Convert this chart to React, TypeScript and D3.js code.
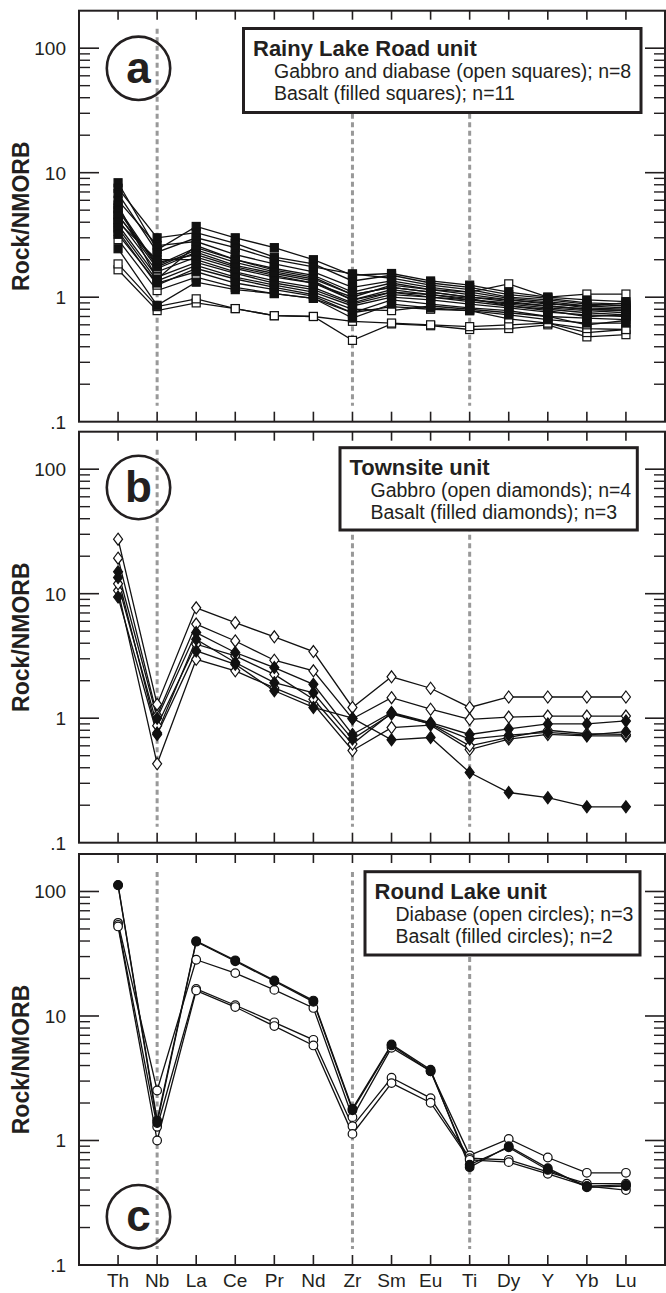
import * as d3 from "d3";
import React from "react";

const ELEMENTS = ["Th", "Nb", "La", "Ce", "Pr", "Nd", "Zr", "Sm", "Eu", "Ti", "Dy", "Y", "Yb", "Lu"];
const DASHED = ["Nb", "Zr", "Ti"];
const Y_TICKS = [100, 10, 1, 0.1];
const Y_TICK_LABELS = ["100", "10", "1", ".1"];

// (a) Rainy Lake Road unit
const rainyOpen = [
  [1.66, 0.78, 0.9, 0.81, 0.71, 0.7, 0.45, 0.61, 0.59, 0.55, 0.56, 0.6, 0.48, 0.5],
  [1.85, 0.84, 0.97, 0.81, 0.71, 0.7, 0.64, 0.62, 0.6, 0.58, 0.6, 0.62, 0.52, 0.55],
  [2.9, 1.13, 1.45, 1.2, 1.07, 0.98, 0.75, 0.84, 0.8, 0.78, 0.67, 0.62, 0.56, 0.55],
  [4.2, 1.6, 2.1, 1.7, 1.45, 1.3, 1.0, 1.25, 1.15, 1.1, 1.28, 1.0, 1.06, 1.06],
  [3.8, 1.45, 1.9, 1.55, 1.3, 1.15, 0.88, 1.05, 1.0, 0.95, 0.9, 0.85, 0.8, 0.78],
  [5.2, 1.8, 2.5, 2.0, 1.65, 1.45, 1.05, 1.2, 1.1, 1.0, 0.95, 0.88, 0.85, 0.9],
  [3.4, 1.25, 1.7, 1.4, 1.2, 1.05, 0.8, 0.78, 0.85, 0.8, 0.75, 0.7, 0.6, 0.65],
  [4.6, 1.7, 2.3, 1.8, 1.55, 1.35, 0.95, 1.1, 1.05, 0.98, 0.85, 0.78, 0.7, 0.72],
];
const rainyFilled = [
  [8.3, 2.4, 3.7, 3.0, 2.5, 2.0, 1.5, 1.55, 1.35, 1.25, 1.1, 1.0, 0.95, 0.92],
  [7.5, 3.0, 3.3, 2.7, 2.1, 1.85, 1.35, 1.5, 1.3, 1.2, 1.05, 0.98, 0.9, 0.88],
  [6.8, 2.3, 3.0, 2.5, 2.0, 1.75, 1.54, 1.42, 1.25, 1.15, 1.0, 0.95, 0.88, 0.85],
  [6.0, 2.6, 2.8, 2.2, 1.85, 1.6, 1.2, 1.35, 1.2, 1.1, 0.98, 0.92, 0.85, 0.82],
  [5.5, 1.4, 2.6, 2.0, 1.7, 1.5, 1.1, 1.3, 1.15, 1.05, 0.95, 0.9, 0.82, 0.8],
  [5.0, 1.75, 2.4, 1.9, 1.6, 1.4, 1.05, 1.2, 1.1, 1.0, 0.92, 0.85, 0.8, 0.78],
  [4.5, 1.9, 2.2, 1.75, 1.5, 1.3, 0.95, 1.15, 1.05, 0.95, 0.88, 0.82, 0.78, 0.75],
  [4.0, 2.0, 2.0, 1.6, 1.35, 1.2, 0.9, 1.1, 1.0, 0.92, 0.85, 0.8, 0.75, 0.72],
  [3.6, 1.35, 1.8, 1.45, 1.25, 1.1, 0.85, 1.0, 0.95, 0.88, 0.82, 0.76, 0.72, 0.7],
  [3.2, 1.3, 1.6, 1.3, 1.15, 1.02, 0.75, 0.95, 0.88, 0.82, 0.78, 0.7, 0.68, 0.66],
  [2.45, 0.86, 1.32, 1.15, 1.07, 0.98, 0.68, 0.88, 0.82, 0.78, 0.72, 0.66, 0.62, 0.62],
];

// (b) Townsite unit
const townsiteOpen = [
  [27.4, 1.29, 7.7, 5.85, 4.5, 3.43, 1.22, 2.15, 1.74, 1.22, 1.48, 1.48, 1.48, 1.48],
  [19.3, 1.05, 5.7, 4.17, 2.92, 2.4, 0.99, 1.46, 1.18, 0.98, 1.02, 1.04, 1.04, 1.04],
  [10.6, 0.43, 2.97, 2.4, 1.75, 1.3, 0.55, 0.84, 0.88, 0.56, 0.68, 0.74, 0.72, 0.72],
  [12.0, 0.87, 3.93, 3.16, 2.25, 1.42, 0.62, 1.1, 0.9, 0.6, 0.7, 0.8, 0.75, 0.74],
];
const townsiteFilled = [
  [9.4, 0.74, 3.47, 2.71, 1.66, 1.22, 1.0, 0.67, 0.7, 0.366, 0.253, 0.23, 0.194, 0.194],
  [15.0, 1.0, 4.87, 3.37, 2.55, 1.87, 0.74, 1.11, 0.92, 0.74, 0.82, 0.9, 0.9, 0.95],
  [13.5, 0.76, 4.3, 2.8, 1.93, 1.6, 0.68, 1.08, 0.9, 0.68, 0.73, 0.77, 0.73, 0.78],
];

// (c) Round Lake unit
const roundOpen = [
  [56, 2.52, 28.3, 22.1, 16.2, 11.6, 1.54, 5.56, 3.6, 0.76, 1.03, 0.73, 0.55, 0.55],
  [54, 1.29, 16.5, 12.2, 8.9, 6.44, 1.3, 3.19, 2.19, 0.72, 0.7, 0.56, 0.45, 0.45],
  [52.4, 1.0, 16.0, 11.8, 8.3, 5.8, 1.13, 2.89, 2.01, 0.7, 0.67, 0.54, 0.43, 0.4],
];
const roundFilled = [
  [113, 1.45, 40, 28, 19.3, 13.3, 1.8, 5.9, 3.7, 0.61, 0.9, 0.6, 0.42, 0.43],
  [112, 1.38, 39.5, 27.5, 19, 13, 1.75, 5.8, 3.6, 0.64, 0.88, 0.58, 0.43, 0.44],
];

const PANELS = [
  {
    letter: "a", top: 10.7, bottom: 421.7, marker: "square",
    open: rainyOpen, filled: rainyFilled,
    circleY: 68.3,
    box: { x: 243.5, y: 28.5, w: 397.5, h: 84 },
    title: "Rainy Lake Road unit",
    lines: ["Gabbro and diabase (open squares); n=8", "Basalt (filled squares); n=11"],
  },
  {
    letter: "b", top: 431.7, bottom: 842.7, marker: "diamond",
    open: townsiteOpen, filled: townsiteFilled,
    circleY: 487.5,
    box: { x: 340, y: 447.7, w: 297.3, h: 82.3 },
    title: "Townsite unit",
    lines: ["Gabbro (open diamonds); n=4", "Basalt (filled diamonds); n=3"],
  },
  {
    letter: "c", top: 854, bottom: 1265, marker: "circle",
    open: roundOpen, filled: roundFilled,
    circleY: 1216.7,
    box: { x: 365, y: 871.7, w: 275, h: 83.3 },
    title: "Round Lake unit",
    lines: ["Diabase (open circles); n=3", "Basalt (filled circles); n=2"],
  },
];

const W = 666;
const H = 1293;
const X0 = 79;
const X1 = 665;
const FONT = "Liberation Sans, Arial, Helvetica, sans-serif";

const x = d3.scalePoint<string>().domain(ELEMENTS).range([X0, X1]).padding(1);

function Marker({ type, cx, cy, filled }: { type: string; cx: number; cy: number; filled: boolean }) {
  const fill = filled ? "#111" : "#fff";
  if (type === "square") {
    return <rect x={cx - 4} y={cy - 4} width={8} height={8} fill={fill} stroke="#111" strokeWidth={1.2} />;
  }
  if (type === "diamond") {
    return (
      <path
        d={`M${cx},${cy - 6}L${cx + 4.5},${cy}L${cx},${cy + 6}L${cx - 4.5},${cy}Z`}
        fill={fill}
        stroke="#111"
        strokeWidth={1.2}
      />
    );
  }
  return <circle cx={cx} cy={cy} r={4.3} fill={fill} stroke="#111" strokeWidth={1.2} />;
}

function Panel({ p }: { p: (typeof PANELS)[number] }) {
  const y = d3.scaleLog().domain([0.1, 200]).range([p.bottom, p.top]);
  const line = d3
    .line<number>()
    .x((_, i) => x(ELEMENTS[i]) as number)
    .y((d) => y(d));

  const minor: number[] = [];
  [0.1, 1, 10, 100].forEach((dec) => {
    for (let k = 2; k <= 9; k++) {
      const v = dec * k;
      if (v < 200) minor.push(v);
    }
  });

  const series = [
    ...p.open.map((s) => ({ s, filled: false })),
    ...p.filled.map((s) => ({ s, filled: true })),
  ];
  const mid = (p.top + p.bottom) / 2;

  return (
    <g>
      {/* y tick labels */}
      {Y_TICKS.map((t, i) => (
        <text key={t} x={66} y={y(t)} dy="0.36em" textAnchor="end" fontSize={19} fill="#231f20">
          {Y_TICK_LABELS[i]}
        </text>
      ))}
      <text
        transform={`translate(28.5,${mid}) rotate(-90)`}
        textAnchor="middle"
        fontSize={23}
        fontWeight="bold"
        fill="#231f20"
      >
        Rock/NMORB
      </text>

      {/* dashed reference lines */}
      {DASHED.map((e) => (
        <line
          key={e}
          x1={x(e)}
          x2={x(e)}
          y1={p.top + 18}
          y2={p.bottom - 16}
          stroke="#999"
          strokeWidth={3}
          strokeDasharray="5,3.5"
        />
      ))}

      {/* frame */}
      <rect x={X0} y={p.top} width={X1 - X0} height={p.bottom - p.top} fill="none" stroke="#231f20" strokeWidth={2} />

      {/* y ticks, left and right */}
      {[1, 10, 100].map((t) => (
        <g key={t}>
          <line x1={X0} x2={X0 + 20} y1={y(t)} y2={y(t)} stroke="#231f20" strokeWidth={1.6} />
          <line x1={X1} x2={X1 - 20} y1={y(t)} y2={y(t)} stroke="#231f20" strokeWidth={1.6} />
        </g>
      ))}
      {minor.map((t) => (
        <g key={t}>
          <line x1={X0} x2={X0 + 11} y1={y(t)} y2={y(t)} stroke="#231f20" strokeWidth={1.4} />
          <line x1={X1} x2={X1 - 11} y1={y(t)} y2={y(t)} stroke="#231f20" strokeWidth={1.4} />
        </g>
      ))}

      {/* x ticks, top and bottom */}
      {ELEMENTS.map((e) => (
        <g key={e}>
          <line x1={x(e)} x2={x(e)} y1={p.top} y2={p.top + 9} stroke="#231f20" strokeWidth={1.6} />
          <line x1={x(e)} x2={x(e)} y1={p.bottom} y2={p.bottom - 10} stroke="#231f20" strokeWidth={1.6} />
        </g>
      ))}

      {/* data */}
      {series.map(({ s }, i) => (
        <path key={`l${i}`} d={line(s) ?? ""} fill="none" stroke="#111" strokeWidth={1.3} />
      ))}
      {series.map(({ s, filled }, i) =>
        s.map((v, j) => (
          <Marker key={`m${i}-${j}`} type={p.marker} cx={x(ELEMENTS[j]) as number} cy={y(v)} filled={filled} />
        ))
      )}

      {/* legend */}
      <rect x={p.box.x} y={p.box.y} width={p.box.w} height={p.box.h} fill="#fff" stroke="#231f20" strokeWidth={3} />
      <text x={p.box.x + 9.5} y={p.box.y + 27} fontSize={22} fontWeight="bold" fill="#231f20">
        {p.title}
      </text>
      {p.lines.map((t, i) => (
        <text key={t} x={p.box.x + 30.5} y={p.box.y + 49 + i * 22} fontSize={19.5} fill="#231f20">
          {t}
        </text>
      ))}

      {/* panel letter */}
      <circle cx={138.5} cy={p.circleY} r={31.7} fill="none" stroke="#231f20" strokeWidth={2.6} />
      <text x={138.5} y={p.circleY} dy="0.33em" textAnchor="middle" fontSize={44} fontWeight="bold" fill="#231f20">
        {p.letter}
      </text>
    </g>
  );
}

export default function App() {
  const last = PANELS[PANELS.length - 1];
  return (
    <svg
      width={W}
      height={H}
      style={{ position: "absolute", left: 0, top: 0, background: "#fff" }}
      fontFamily={FONT}
    >
      <rect width={W} height={H} fill="#fff" />
      {PANELS.map((p) => (
        <Panel key={p.letter} p={p} />
      ))}
      {ELEMENTS.map((e) => (
        <text key={e} x={x(e)} y={last.bottom + 22} textAnchor="middle" fontSize={19} fill="#231f20">
          {e}
        </text>
      ))}
    </svg>
  );
}
